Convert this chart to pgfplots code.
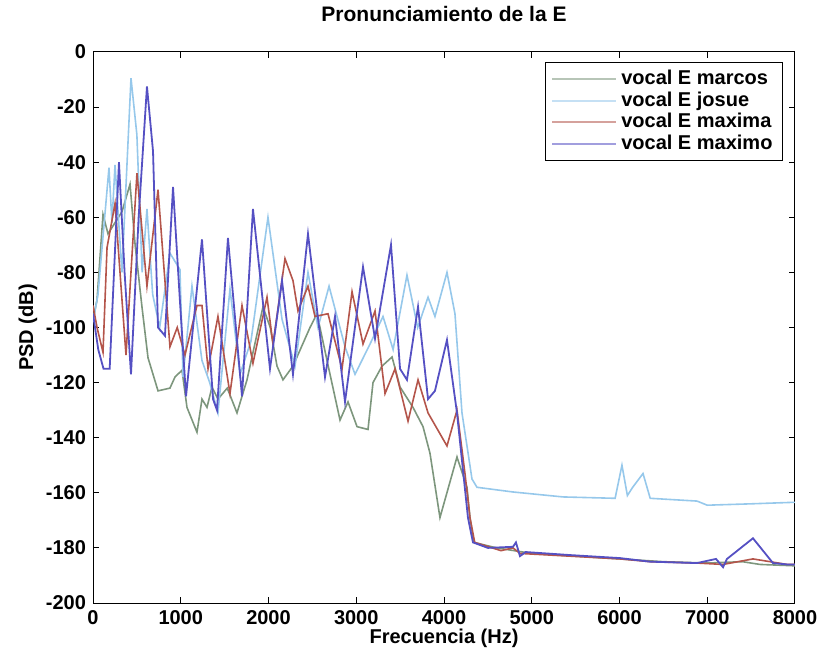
\documentclass[border=0pt]{standalone}
\usepackage{fontspec}
\setmainfont{Liberation Sans}
\usepackage{pgfplots}
\pgfplotsset{compat=1.18}
\definecolor{cmarcos}{RGB}{125,150,125}
\definecolor{cjosue}{RGB}{150,200,235}
\definecolor{cmaxima}{RGB}{180,85,75}
\definecolor{cmaximo}{RGB}{85,80,195}
\begin{document}
\begin{tikzpicture}
\begin{axis}[
    name=ax, scale only axis, width=351pt, height=275.5pt,
    xmin=0, xmax=8000, ymin=-200, ymax=0,
    xtick={0,1000,2000,3000,4000,5000,6000,7000,8000},
    xticklabels={0,1000,2000,3000,4000,5000,6000,7000,8000},
    ytick={-200,-180,-160,-140,-120,-100,-80,-60,-40,-20,0},
    yticklabels={-200,-180,-160,-140,-120,-100,-80,-60,-40,-20,0},
    tick align=inside, major tick length=3pt,
    every tick/.style={black, line width=0.5pt},
    axis line style={line width=0.5pt},
    font=\bfseries\fontsize{10}{12}\selectfont,
    every axis title shift=0pt,
    title={Pronunciamiento de la E},
    title style={at={(axis description cs:0.5,1)}, anchor=base, yshift=15pt, font=\bfseries\fontsize{10.5}{12}\selectfont},
    xlabel={Frecuencia (Hz)},
    xlabel style={at={(axis description cs:0.5,0)}, anchor=base, yshift=-20pt},
    ylabel={PSD (dB)},
    ylabel style={at={(axis description cs:0,0.5)}, anchor=center, yshift=32.5pt},
    no markers,
    legend style={at={(1,1)}, anchor=north east, xshift=-6pt, yshift=-5pt,
        draw=black, line width=0.5pt, row sep=-2pt, inner ysep=2pt,
        font=\bfseries\fontsize{10}{12}\selectfont},
    legend cell align=left,
    legend image code/.code={\draw[#1, opacity=0.55] (0pt,0pt) -- (32pt,0pt);},
]
% vocal E marcos
\addplot[cmarcos, line width=0.8pt] coordinates {
    (0,-97) (46,-90) (114,-59) (171,-66) (250,-62) (330,-58) (422,-48) (480,-70)
    (558,-92.5) (627,-111) (741,-123) (877,-122) (934,-118) (1014,-115.5) (1071,-129)
    (1185,-138) (1242,-126) (1299,-129) (1356,-121.6) (1424,-126) (1530,-122) (1641,-131)
    (1755,-119) (1937,-92.5) (2020,-100) (2097,-114) (2165,-119) (2279,-114) (2473,-100)
    (2553,-95) (2667,-112) (2815,-133.6) (2906,-127) (3009,-136) (3134,-137) (3191,-120)
    (3294,-114) (3408,-110.7) (3499,-121.6) (3647,-129) (3761,-136) (3840,-145.6)
    (3954,-169) (4148,-147) (4262,-158) (4296,-169) (4340,-178) (4600,-180) (5000,-182)
    (5500,-183) (6000,-184) (6500,-185) (7000,-185.5) (7400,-185) (7600,-186) (8000,-186.5)
};
\addlegendentry{vocal E marcos}
% vocal E josue
\addplot[cjosue, line width=0.8pt] coordinates {
    (0,-98) (57,-88) (182,-42) (216,-62) (251,-41) (330,-80) (433,-9.5) (500,-30)
    (560,-80) (615,-57) (680,-88) (760,-100) (877,-73) (991,-79) (1026,-118) (1128,-85)
    (1242,-112) (1330,-120) (1424,-131) (1561,-86) (1675,-117) (1800,-105) (1994,-60)
    (2154,-97) (2302,-114) (2450,-80) (2564,-100) (2690,-85) (2872,-107) (2986,-117)
    (3157,-106) (3305,-96) (3420,-108) (3578,-81) (3700,-100) (3818,-89) (3897,-96)
    (4034,-80) (4125,-95) (4205,-131) (4319,-155) (4376,-158) (4786,-159.7) (5356,-161.5)
    (5950,-162) (6028,-150) (6090,-161) (6150,-158) (6268,-153) (6350,-162) (6883,-163)
    (7000,-164.5) (7500,-164) (7943,-163.5) (8000,-163.5)
};
\addlegendentry{vocal E josue}
% vocal E maxima
\addplot[cmaxima, line width=0.8pt] coordinates {
    (0,-92) (46,-100) (114,-109) (160,-71) (251,-55) (376,-110) (501,-44) (615,-85)
    (741,-50) (877,-107) (960,-100) (1048,-110) (1185,-92) (1242,-92) (1311,-115)
    (1424,-96) (1561,-124) (1698,-92) (1823,-113) (1983,-89) (2051,-106) (2188,-75)
    (2279,-83) (2336,-94) (2450,-85) (2530,-96) (2678,-95) (2838,-115) (2952,-87)
    (3077,-106) (3214,-94) (3328,-124) (3442,-115) (3590,-134) (3704,-119) (3818,-131)
    (4034,-143) (4148,-130) (4239,-153) (4296,-169) (4350,-178) (4450,-179) (4550,-180)
    (4650,-181) (4786,-180) (4866,-182) (5436,-183) (6006,-184) (6348,-185) (6883,-185.5)
    (7180,-186) (7521,-184) (7909,-186) (8000,-186)
};
\addlegendentry{vocal E maxima}
% vocal E maximo
\addplot[cmaximo, line width=0.9pt] coordinates {
    (0,-95) (60,-108) (120,-115) (190,-115) (296,-40) (360,-80) (433,-117) (520,-60)
    (615,-12.5) (684,-36) (741,-100) (820,-103) (912,-49) (990,-90) (1060,-125)
    (1242,-68) (1368,-126) (1413,-130) (1538,-67.5) (1698,-125) (1823,-57) (2017,-115)
    (2154,-83) (2279,-117) (2450,-66) (2644,-118) (2758,-96) (2872,-127) (3077,-78)
    (3214,-104) (3396,-70) (3499,-115) (3578,-119) (3704,-92.5) (3818,-126) (3897,-123)
    (4034,-104.5) (4148,-131) (4273,-169) (4330,-178) (4500,-180) (4786,-179.6)
    (4820,-178) (4866,-183) (4930,-181.5) (5436,-182.6) (6006,-183.7) (6348,-185)
    (6883,-185.5) (7100,-184) (7180,-187) (7225,-184) (7521,-176.5) (7749,-185.5)
    (7909,-186) (8000,-186)
};
\addlegendentry{vocal E maximo}
\end{axis}
\pgfresetboundingbox
\path ([xshift=-46.5pt,yshift=-29.5pt]ax.south west) rectangle ([xshift=15.5pt,yshift=26pt]ax.north east);
\end{tikzpicture}
\end{document}
